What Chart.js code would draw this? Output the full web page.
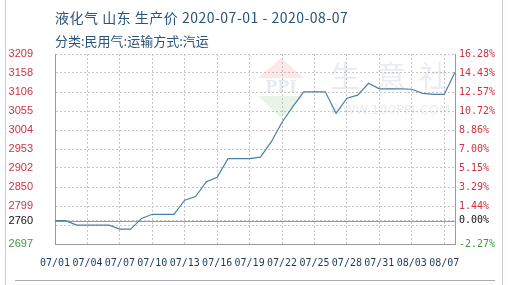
<!DOCTYPE html>
<html>
<head>
<meta charset="utf-8">
<script src="https://cdn.jsdelivr.net/npm/chart.js@4/dist/chart.umd.min.js"></script>
<style>
  html, body { margin: 0; padding: 0; background: #fff; }
  #wrap { position: relative; width: 513px; height: 285px; overflow: hidden; }
  #frame { position: absolute; left: 5px; top: -2px; width: 498px; height: 300px; border: 1px solid #c9ced6; box-sizing: border-box; }
  #rule { position: absolute; left: 15px; top: 280px; width: 480px; height: 0; border-top: 1px solid #a9aeb6; }
  .ttl { position: absolute; left: 55px; color: #2a5478; font-family: "Noto Sans CJK SC", sans-serif; white-space: nowrap; }
  #t1 { top: 7px; font-size: 14px; letter-spacing: 0.5px; }
  #t2 { top: 31px; font-size: 13px; }
  canvas { position: absolute; left: 0; top: 0; }
</style>
</head>
<body>
<div id="wrap">
  <div id="frame"></div>
  <div id="rule"></div>
  <canvas id="priceChart" width="513" height="285"></canvas>
  <div class="ttl" id="t1">液化气 山东 生产价 2020-07-01 - 2020-08-07</div>
  <div class="ttl" id="t2">分类:民用气:运输方式:汽运</div>
</div>
<script>
// daily dates 07/01 .. 08/07
const dates = ['07/01','07/02','07/03','07/04','07/05','07/06','07/07','07/08','07/09','07/10',
  '07/11','07/12','07/13','07/14','07/15','07/16','07/17','07/18','07/19','07/20',
  '07/21','07/22','07/23','07/24','07/25','07/26','07/27','07/28','07/29','07/30',
  '07/31','08/01','08/02','08/03','08/04','08/05','08/06','08/07'];
const prices = [2760, 2760, 2748, 2748, 2748, 2748, 2737, 2737, 2766, 2777,
  2777, 2777, 2815, 2825, 2865, 2877, 2927, 2927, 2927, 2931,
  2972, 3025, 3067, 3107, 3107, 3107, 3049, 3090, 3098, 3130,
  3115, 3115, 3115, 3114, 3103, 3100, 3100, 3160];

// x labels as printed on the original (one every 3 days)
const xTickLabels = ['07/01','07/04','07/07','07/10','07/13','07/16','07/19','07/22','07/25','07/28','07/31','08/03','08/07'];

const baseValue = 2760;
const yMin = 2697, yMax = 3209;
const leftTickValues = [3209, 3158, 3106, 3055, 3004, 2953, 2902, 2850, 2799, 2760, 2748, 2697];
const leftTickLabels = ['3209','3158','3106','3055','3004','2953','2902','2850','2799','2760','','2697'];
const rightTickLabels = ['16.28%','14.43%','12.57%','10.72%','8.86%','7.00%','5.15%','3.29%','1.44%','0.00%','','-2.27%'];

const gridGray = '#c6c6c6';
const axisGray = '#9a9a9a';

function tickColor(v) {
  if (v > baseValue) return '#cc3344';
  if (v === baseValue) return '#111111';
  return '#3c9a3c';
}

const extras = {
  id: 'extras',
  beforeDatasetsDraw(chart) {
    const { ctx, chartArea, scales } = chart;
    // faint watermark
    ctx.save();
    ctx.fillStyle = 'rgba(235,150,150,0.22)';
    ctx.beginPath(); ctx.moveTo(281, 58); ctx.lineTo(258, 78); ctx.lineTo(304, 78); ctx.closePath(); ctx.fill();
    ctx.fillStyle = 'rgba(150,205,150,0.22)';
    ctx.beginPath(); ctx.moveTo(258, 96); ctx.lineTo(304, 96); ctx.lineTo(281, 118); ctx.closePath(); ctx.fill();
    ctx.fillStyle = 'rgba(160,175,205,0.28)';
    ctx.font = 'bold 16px "DejaVu Serif"';
    ctx.textAlign = 'center'; ctx.textBaseline = 'middle';
    ctx.fillText('PPI', 281, 88);
    ctx.fillStyle = 'rgba(170,180,200,0.25)';
    ctx.font = '30px "Noto Sans CJK SC"';
    ctx.fillText('生', 345, 76);
    ctx.fillText('意', 391, 76);
    ctx.fillText('社', 434, 76);
    ctx.font = '13px "DejaVu Sans"';
    ctx.fillStyle = 'rgba(170,180,200,0.25)';
    ctx.fillText('WWW.100PPI.COM', 390, 111);
    ctx.restore();

    // solid 0% base line
    const y = Math.round(scales.y.getPixelForValue(baseValue)) + 0.5;
    ctx.save();
    ctx.strokeStyle = axisGray;
    ctx.lineWidth = 1;
    ctx.beginPath();
    ctx.moveTo(chartArea.left, y);
    ctx.lineTo(chartArea.right, y);
    ctx.stroke();
    ctx.restore();
  }
};

const ctx = document.getElementById('priceChart').getContext('2d');
const priceChart = new Chart(ctx, {
  type: 'line',
  data: {
    labels: dates,
    datasets: [{
      data: prices,
      borderColor: '#4a80a8',
      borderWidth: 1.2,
      pointRadius: 0,
      tension: 0,
      fill: false
    }]
  },
  options: {
    responsive: false,
    animation: false,
    devicePixelRatio: 1,
    layout: { padding: { left: 0, right: 0, top: 54, bottom: 0 } },
    plugins: { legend: { display: false }, tooltip: { enabled: false } },
    scales: {
      x: {
        offset: false,
        afterFit: (s) => { s.height = 41; },
        grid: {
          drawTicks: false,
          color: (c) => (c.index % 3 === 0 ? gridGray : 'rgba(0,0,0,0)')
        },
        border: { color: axisGray, dash: [2, 2] },
        ticks: {
          autoSkip: false,
          maxRotation: 0,
          padding: 13,
          color: '#1d3b5a',
          font: { family: 'DejaVu Sans Mono', size: 10 },
          callback: (v, i) => (i % 3 === 0 ? xTickLabels[i / 3] : '')
        }
      },
      y: {
        position: 'left',
        min: yMin,
        max: yMax,
        afterBuildTicks: (s) => { s.ticks = leftTickValues.map(v => ({ value: v })); },
        afterFit: (s) => { s.width = 55; },
        grid: { drawTicks: false, color: gridGray },
        border: { color: axisGray, dash: [2, 2] },
        ticks: {
          autoSkip: false,
          padding: 22,
          font: { family: 'Liberation Sans', size: 11 },
          color: (c) => tickColor(c.tick.value),
          callback: (v, i) => leftTickLabels[i]
        }
      },
      y1: {
        position: 'right',
        min: yMin,
        max: yMax,
        afterBuildTicks: (s) => { s.ticks = leftTickValues.map(v => ({ value: v })); },
        afterFit: (s) => { s.width = 58; },
        grid: { display: false, drawTicks: false },
        border: { color: axisGray },
        ticks: {
          autoSkip: false,
          padding: 4,
          font: { family: 'DejaVu Sans Mono', size: 10 },
          color: (c) => tickColor(c.tick.value),
          callback: (v, i) => rightTickLabels[i]
        }
      }
    }
  },
  plugins: [extras]
});
</script>
</body>
</html>
